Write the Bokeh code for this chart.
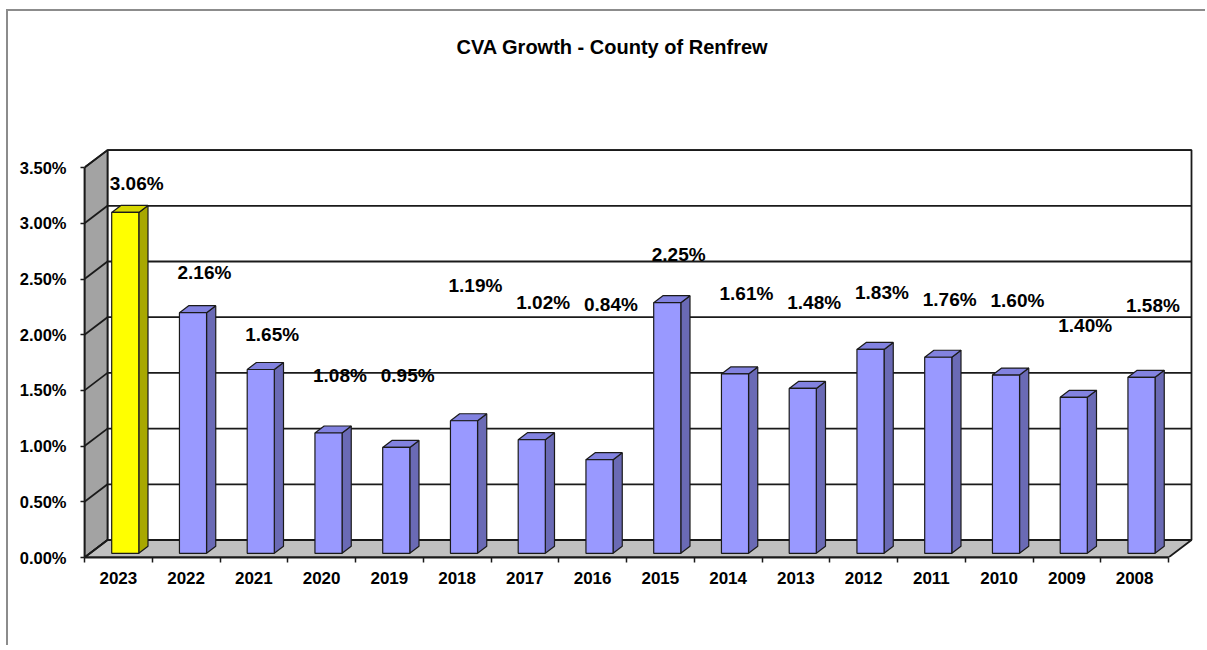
from bokeh.plotting import figure
from bokeh.models import (Range1d, LinearAxis, FixedTicker, PrintfTickFormatter,
                          ColumnDataSource)
from bokeh.core.properties import value
from bokeh.embed import file_html
from bokeh.resources import INLINE

# ---------------- data ----------------
years = ["2023", "2022", "2021", "2020", "2019", "2018", "2017", "2016",
         "2015", "2014", "2013", "2012", "2011", "2010", "2009", "2008"]
growth = [3.06, 2.16, 1.65, 1.08, 0.95, 1.19, 1.02, 0.84,
          2.25, 1.61, 1.48, 1.83, 1.76, 1.60, 1.40, 1.58]
y_ticks = [0.0, 0.5, 1.0, 1.5, 2.0, 2.5, 3.0, 3.5]
highlight_year = "2023"
# heights (in % units) at which the source chart placed each data label
label_y = [3.36, 2.56, 2.00, 1.63, 1.63, 2.44, 2.29, 2.27,
           2.72, 2.37, 2.29, 2.38, 2.32, 2.31, 2.08, 2.26]

# ---------------- layout / style ----------------
FONT = "Liberation Sans"
W, H = 1199, 636
PX_CAT = 67.75      # pixels per category
PX_PCT = 111.4      # pixels per 1 %
ML, MR, MT, MB = 76, 0, 71, 90
DX = 23 / PX_CAT    # 3-D depth offset (x, category units)
DY = 17.5 / PX_PCT  # 3-D depth offset (y, % units)
F0 = 0.24           # depth position of bar front face
BD = 0.40           # bar depth fraction
BW = 0.40           # bar width (categories)
LINE = "#1a1a1a"

n = len(years)
x0, x1 = -0.5, n - 0.5
ymax = y_ticks[-1]

p = figure(width=W, height=H, output_backend="svg", toolbar_location=None,
           x_axis_type=None, y_axis_type=None,
           x_range=Range1d(x0, x0 + (W - ML - MR) / PX_CAT),
           y_range=Range1d(0, (H - MT - MB) / PX_PCT),
           min_border_left=ML, min_border_right=MR,
           min_border_top=MT, min_border_bottom=MB,
           background_fill_color="white", border_fill_color="white",
           outline_line_color=None)
# chart-area border: only its left & top edges fall inside the window
p.styles = {"margin-left": "8px", "margin-top": "11px",
            "box-shadow": "-2px -2px 0px 0px #8c8c8c"}

p.title.text = "CVA Growth - County of Renfrew"
p.title.align = "left"
p.title.offset = 372
p.title.vertical_align = "top"
p.title.standoff = 46
p.title.text_font = FONT
p.title.text_font_size = "20px"
p.title.text_font_style = "bold"
p.title.text_color = "black"

# back wall
p.quad(left=[x0 + DX], right=[x1 + DX], bottom=[DY], top=[ymax + DY],
       fill_color="white", line_color=LINE, line_width=1.8)
# left wall
p.patch(x=[x0, x0 + DX, x0 + DX, x0], y=[0, DY, ymax + DY, ymax],
        fill_color="#a3a3a3", line_color=LINE, line_width=1.8)
# floor
p.patch(x=[x0, x1, x1 + DX, x0 + DX], y=[0, 0, DY, DY],
        fill_color="#c0c0c0", line_color=LINE, line_width=1.8)
# gridlines: back wall + left wall diagonals
p.segment(x0=[x0 + DX] * len(y_ticks), x1=[x1 + DX] * len(y_ticks),
          y0=[v + DY for v in y_ticks], y1=[v + DY for v in y_ticks],
          line_color=LINE, line_width=1.8)
p.segment(x0=[x0] * len(y_ticks), x1=[x0 + DX] * len(y_ticks),
          y0=y_ticks, y1=[v + DY for v in y_ticks],
          line_color=LINE, line_width=1.8)

# ---------------- bars ----------------
fronts = dict(left=[], right=[], bottom=[], top=[], color=[])
sides = dict(xs=[], ys=[], color=[])
tops = dict(xs=[], ys=[], color=[])
for i, (yr, v) in enumerate(zip(years, growth)):
    hl = yr == highlight_year
    c = i + F0 * DX + 0.02
    L, R = c - BW / 2, c + BW / 2
    b, t = F0 * DY, v + F0 * DY
    ddx, ddy = BD * DX, BD * DY
    fronts["left"].append(L); fronts["right"].append(R)
    fronts["bottom"].append(b); fronts["top"].append(t)
    fronts["color"].append("#ffff00" if hl else "#9999ff")
    sides["xs"].append([R, R + ddx, R + ddx, R])
    sides["ys"].append([b, b + ddy, t + ddy, t])
    sides["color"].append("#a8a800" if hl else "#6a6ab5")
    tops["xs"].append([L, R, R + ddx, L + ddx])
    tops["ys"].append([t, t, t + ddy, t + ddy])
    tops["color"].append("#d6d600" if hl else "#8282e0")

p.patches(xs="xs", ys="ys", fill_color="color", line_color=LINE, line_width=1.2,
          source=ColumnDataSource(sides))
p.patches(xs="xs", ys="ys", fill_color="color", line_color=LINE, line_width=1.2,
          source=ColumnDataSource(tops))
p.quad(left="left", right="right", bottom="bottom", top="top", fill_color="color",
       line_color=LINE, line_width=1.2, source=ColumnDataSource(fronts))

# data labels
lab = ColumnDataSource(dict(x=[i + 0.27 for i in range(n)], y=label_y,
                            text=[f"{v:.2f}%" for v in growth]))
p.text(x="x", y="y", text="text", source=lab, text_align="center",
       text_baseline="middle", text_font=value(FONT), text_font_style="bold",
       text_font_size=value("19px"), text_color="black")

# ---------------- axes ----------------
yax = LinearAxis(ticker=FixedTicker(ticks=y_ticks),
                 formatter=PrintfTickFormatter(format="%.2f%%"),
                 bounds=(0, ymax), axis_line_color=LINE, axis_line_width=1.8,
                 major_tick_in=0, major_tick_out=4, major_tick_line_color=LINE,
                 major_tick_line_width=1.5, minor_tick_line_color=None,
                 major_label_standoff=14, major_label_text_font=FONT,
                 major_label_text_font_style="bold",
                 major_label_text_font_size="16.5px",
                 major_label_text_color="black")
p.add_layout(yax, "left")

xax = LinearAxis(ticker=FixedTicker(ticks=list(range(n)),
                                    minor_ticks=[i - 0.5 for i in range(n + 1)]),
                 major_label_overrides={i: yr for i, yr in enumerate(years)},
                 bounds=(x0, x1), axis_line_color=LINE, axis_line_width=1.8,
                 major_tick_line_color=None, major_tick_in=0, major_tick_out=0,
                 minor_tick_in=0, minor_tick_out=5, minor_tick_line_color=LINE,
                 minor_tick_line_width=1.5,
                 major_label_standoff=9, major_label_text_font=FONT,
                 major_label_text_font_style="bold",
                 major_label_text_font_size="17px",
                 major_label_text_color="black")
p.add_layout(xax, "below")

open("out.html", "w").write(file_html(p, INLINE))
